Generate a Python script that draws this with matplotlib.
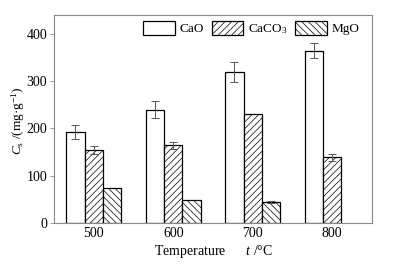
import matplotlib
matplotlib.use("Agg")
import matplotlib.pyplot as plt
import numpy as np

categories = ["500", "600", "700", "800"]
series = ["CaO", "CaCO$_3$", "MgO"]
cao = [192, 240, 319, 364]
cao_err = [15, 18, 21, 16]
caco3 = [154, 164, 230, 139]
caco3_err = [8, 8, 0, 7]
mgo = [75, 49, 44, 0]
mgo_err = [0, 0, 2, 0]
yticks = [0, 100, 200, 300, 400]

plt.rcParams['font.family'] = ['Liberation Serif', 'DejaVu Serif']
plt.rcParams['mathtext.fontset'] = 'custom'
plt.rcParams['mathtext.rm'] = 'Liberation Serif'
plt.rcParams['mathtext.it'] = 'Liberation Serif:italic'
plt.rcParams['hatch.linewidth'] = 0.5
plt.rcParams['hatch.color'] = '#444444'

fig = plt.figure(figsize=(3.96, 2.65), dpi=100)
ax = fig.add_axes([54/396, 1-223/265, (372-54)/396, (223-15)/265])

x = np.arange(len(categories))
w = 0.23
datasets = [(cao, cao_err, ''), (caco3, caco3_err, '/////'), (mgo, mgo_err, '\\\\\\\\\\')]
for i, (vals, errs, hatch) in enumerate(datasets):
    pos = x + (i - 1) * w
    vals_arr = np.array(vals, dtype=float)
    mask = vals_arr > 0
    ax.bar(pos[mask], vals_arr[mask], w, color='white', edgecolor='black', linewidth=0.9,
           hatch=hatch, label=series[i], zorder=2)
    for p, v, e in zip(pos, vals, errs):
        if v > 0 and e > 0:
            ax.errorbar(p, v, yerr=e, fmt='none', ecolor='#555555',
                        elinewidth=0.7, capsize=3, capthick=0.7, zorder=3)

ax.set_xlim(-0.5, 3.5)
ax.set_ylim(0, 440)
ax.set_xticks(x)
ax.set_xticklabels(categories, fontsize=10)
ax.set_yticks(yticks)
ax.tick_params(axis='y', labelsize=10, length=3, width=0.6, color='#888888', pad=2)
ax.tick_params(axis='x', length=0, pad=3)
for s in ax.spines.values():
    s.set_color('#888888')
    s.set_linewidth(0.8)

ax.set_ylabel("$C_\\mathrm{s}$ /(mg·g$^{-1}$)", fontsize=9.5)
ax.yaxis.set_label_coords(-0.085, 0.49)
ax.set_xlabel("Temperature      $t$ /°C", fontsize=10, labelpad=2)

leg = fig.legend(loc='upper left', bbox_to_anchor=(143/396, 1-21/265), ncol=3,
                 frameon=False, fontsize=9.5, handlelength=2.4, handleheight=1.2,
                 columnspacing=0.6, handletextpad=0.35, borderpad=0, borderaxespad=0)

fig.savefig("out.png", dpi=100)
